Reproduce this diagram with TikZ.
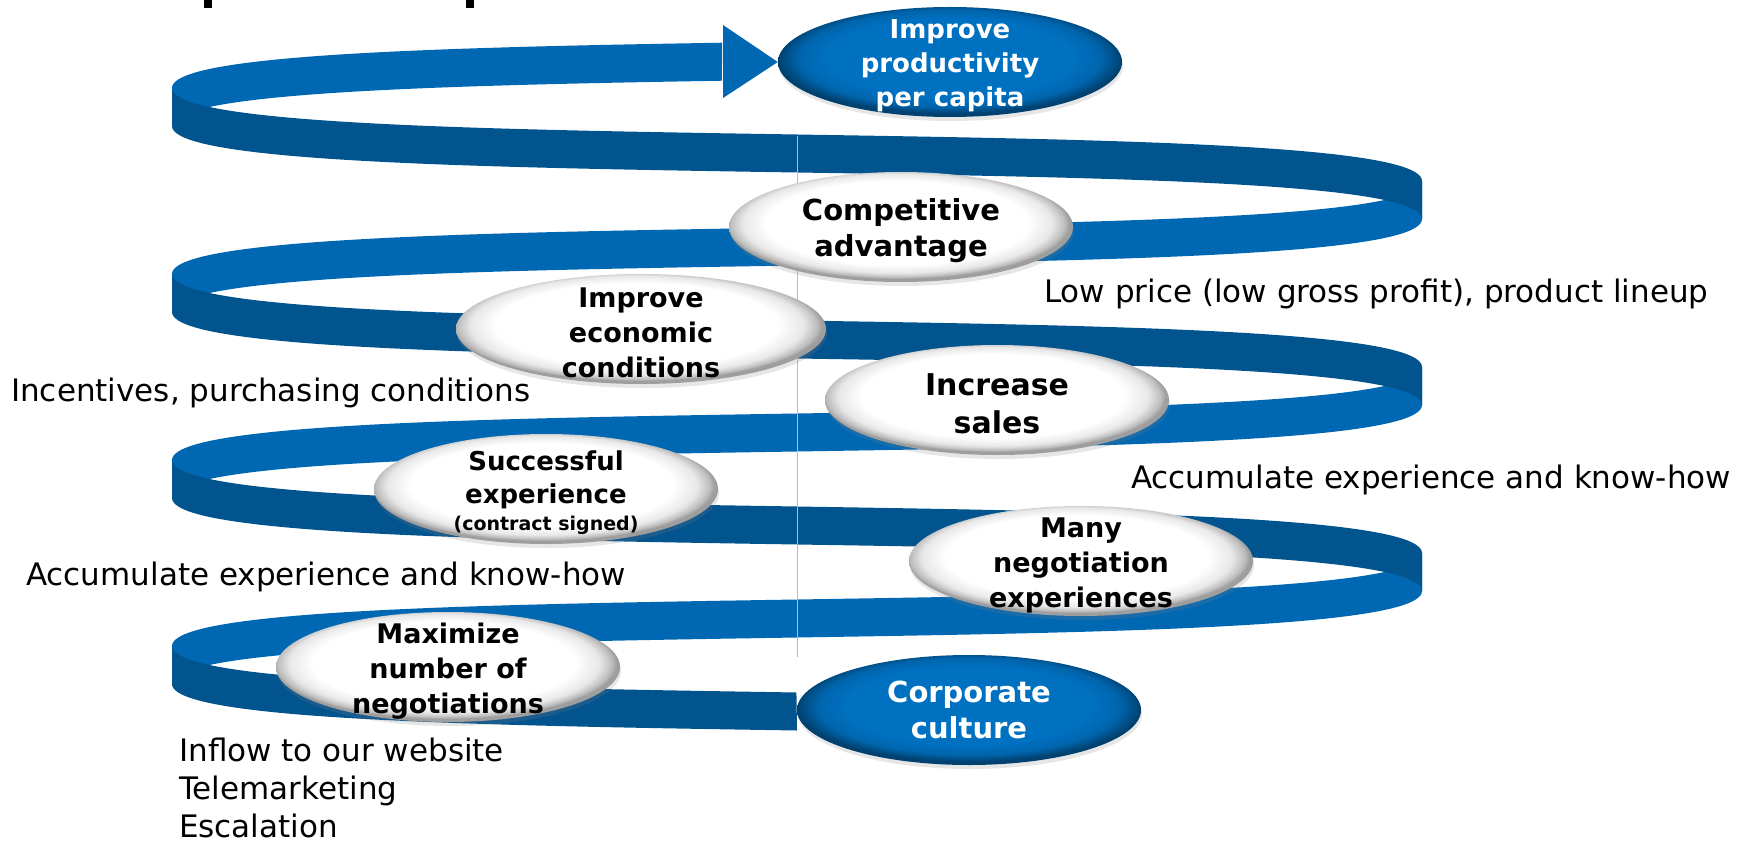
\documentclass[tikz,border=0pt]{standalone}
\usepackage{fontspec}
\setmainfont{DejaVu Sans}
\usetikzlibrary{shapes.geometric, shadows}

\definecolor{bandlight}{RGB}{0,103,178}
\definecolor{banddark}{RGB}{2,84,143}
\definecolor{ovalblue}{RGB}{0,112,192}
\definecolor{seamblue}{RGB}{165,192,222}

% bevelled fills for the ovals
\pgfdeclareradialshading{whitebevel}{\pgfpoint{-1bp}{3bp}}{color(0bp)=(white); color(19bp)=(white); color(22.5bp)=(black!9); color(24.3bp)=(black!26); color(25bp)=(black!38); color(50bp)=(black!38)}
\pgfdeclareradialshading{bluebevel}{\pgfpoint{0bp}{3bp}}{color(0bp)=(ovalblue); color(18bp)=(ovalblue); color(22bp)=(ovalblue!90!black); color(25bp)=(ovalblue!58!black); color(50bp)=(ovalblue!58!black)}

% one half turn of the ribbon: #1 direction (-1 to the right, 1 to the left),
% #2 height at its start, #3..#4 parameter range, #5 style
\newcommand{\ribbonpart}[5]{%
  \fill[#5] plot[domain=#3:#4, samples=90, variable=\t]
      ({797+#1*625*cos(\t r)}, {#2+46.5+64*(\t-1.5708)+54*cos(\t r)})
    -- plot[domain=#4:#3, samples=90, variable=\t]
      ({797+#1*625*cos(\t r)}, {#2+84.5+64*(\t-1.5708)+54*cos(\t r)})
    -- cycle;}

\begin{document}
\begin{tikzpicture}[x=1pt, y=-1pt,
          % ribbon styles
          backband/.style={fill=bandlight},
          frontband/.style={fill=banddark},
          seam/.style={draw=seamblue, line width=1pt},
          % oval styles
          oval/.style={ellipse, minimum width=344pt, minimum height=110pt, inner sep=0pt,
                       drop shadow={opacity=0.2, shadow xshift=1pt, shadow yshift=-4pt}},
          whiteoval/.style={oval, shading=whitebevel},
          blueoval/.style={oval, shading=bluebevel},
          ovaltext/.style={align=center, inner sep=0pt, yshift=-4pt,
                           font=\bfseries\fontsize{27}{35}\selectfont},
          bluetext/.style={ovaltext, text=white},
          % side notes
          note/.style={font=\fontsize{31}{38}\selectfont, inner sep=0pt, anchor=base west}
        ]
          \useasboundingbox (0,0) rectangle (1747,842);

          % ==========================================
          % 1. Cut-off title at the top
          % ==========================================
          \fill[black] (204,0) rectangle (212,8);
          \fill[black] (466,0) rectangle (474,8);

          % ==========================================
          % 2. Spiral: back halves, then front halves
          % ==========================================
          \ribbonpart{1}{-5}{1.691}{3.1416}{backband}
          \ribbonpart{1}{181}{0}{3.1416}{backband}
          \ribbonpart{1}{367}{0}{3.1416}{backband}
          \ribbonpart{1}{553}{0}{3.1416}{backband}

          \ribbonpart{-1}{88}{0}{3.1416}{frontband}
          \ribbonpart{-1}{274}{0}{3.1416}{frontband}
          \ribbonpart{-1}{460}{0}{3.1416}{frontband}
          \ribbonpart{-1}{646}{0}{1.5708}{frontband}

          \draw[seam] (797,136) -- (797,657);

          % ==========================================
          % 3. Ovals along the spiral
          % ==========================================
          \node[blueoval, label={[bluetext, font=\bfseries\fontsize{26}{34}\selectfont]center:Improve\\productivity\\per capita}] (prod) at (950,62) {};
          \node[whiteoval, label={[ovaltext, font=\bfseries\fontsize{29}{36}\selectfont]center:Competitive\\advantage}] (compet) at (901,227) {};
          \node[whiteoval, minimum width=370pt, label={[ovaltext]center:Improve\\economic\\conditions}] (econ) at (641,329) {};
          \node[whiteoval, label={[ovaltext, font=\bfseries\fontsize{30}{38}\selectfont]center:Increase\\sales}] (sales) at (997,400) {};
          \node[whiteoval, label={[ovaltext, font=\bfseries\fontsize{26}{33}\selectfont]center:Successful\\experience\\[-6pt]{\fontsize{19}{24}\selectfont(contract signed)}}] (success) at (546,489) {};
          \node[whiteoval, label={[ovaltext]center:Many\\negotiation\\experiences}] (manyneg) at (1081,561) {};
          \node[whiteoval, label={[ovaltext]center:Maximize\\number of\\negotiations}] (maxneg) at (448,667) {};
          \node[blueoval, label={[bluetext, yshift=4pt, font=\bfseries\fontsize{29}{36}\selectfont]center:Corporate\\culture}] (culture) at (969,710) {};

          % arrow head of the top turn
          \fill[backband] (723,25) -- (prod.west) -- (723,98) -- cycle;

          % ==========================================
          % 4. Side notes
          % ==========================================
          \node[note] (lowprice) at (1044,302) {Low price (low gross profit), product lineup};
          \node[note] (incent) at (11,401) {Incentives, purchasing conditions};
          \node[note] (accumr) at (1131,488) {Accumulate experience and know-how};
          \node[note] (accuml) at (26,585) {Accumulate experience and know-how};
          \node[note, anchor=north west, align=left] (inflow) at (179,738) {Inflow to our website\\Telemarketing\\Escalation};
        \end{tikzpicture}
\end{document}
